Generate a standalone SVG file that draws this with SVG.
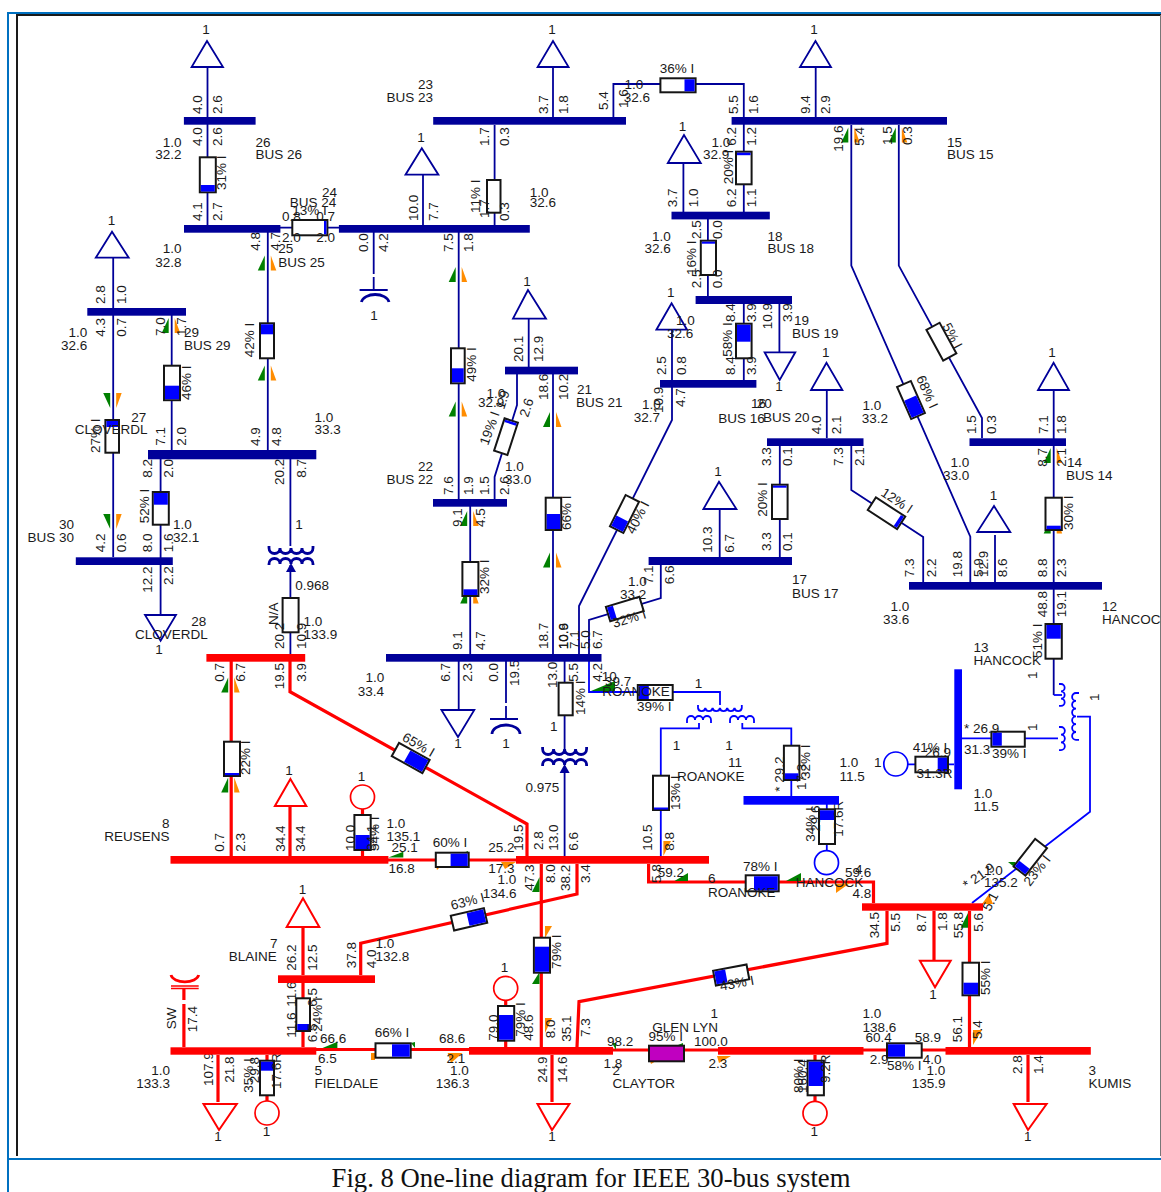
<svg xmlns="http://www.w3.org/2000/svg" xmlns:xlink="http://www.w3.org/1999/xlink" width="1161" height="1192" viewBox="0 0 1161 1192">
<style>
text{font-family:"Liberation Sans",Arial,sans-serif;font-size:13.5px;fill:#1a1a1a}
.m{text-anchor:middle}.e{text-anchor:end}
.cap{font-family:"Liberation Serif","Times New Roman",serif;font-size:26.7px;text-anchor:middle;fill:#111}
.n{fill:none;stroke:#000099;stroke-width:1.8}
.u{fill:none;stroke:#0000ff;stroke-width:1.8}
.R{fill:none;stroke:#ff0000;stroke-width:3.2}
.nb{fill:#000099}.rb{fill:#ff0000}.ub{fill:#0000ff}
.lt{fill:#fff;stroke:#000099;stroke-width:1.8}
.lr{fill:#fff;stroke:#ff0000;stroke-width:2}
.bx{fill:#fff;stroke:#151515;stroke-width:2}
.f{fill:#0000ff}
.g{fill:#008000}.o{fill:#ff8c00}
</style>
<defs>
<g id="up"><polygon class="g" points="-3,-7.5 -3,7.5 -10,7.5"/><polygon class="o" points="3,-7.5 8.5,7.5 3,7.5"/></g>
<g id="dn"><polygon class="g" points="-10,-7.5 -3,-7.5 -3,7.5"/><polygon class="o" points="3,-7.5 8.5,-7.5 3,7.5"/></g>
<g id="xf"><path d="M-22 -10v2a5.5 5.5 0 0 0 11 0a5.5 5.5 0 0 0 11 0a5.5 5.5 0 0 0 11 0a5.5 5.5 0 0 0 11 0v-2" fill="none" stroke-width="2.8"/><path d="M-22 9v-1a5.5 5.5 0 0 1 11 0a5.5 5.5 0 0 1 11 0a5.5 5.5 0 0 1 11 0a5.5 5.5 0 0 1 11 0v1" fill="none" stroke-width="2.8"/><polygon points="0,7 -5,16 5,16" stroke="none"/></g>
</defs>
<rect width="1161" height="1192" fill="#fff"/>
<g id="frame" fill="none">
<path d="M8 1192V13H1161M8 1159H1161" stroke="#0070c0" stroke-width="2"/>
<path d="M17 1156V15H1161" stroke="#1a1a1a" stroke-width="2"/>
<path d="M1160.5 15V1156" stroke="#777" stroke-width="1"/>
</g>
<g id="connectors">
<g id="lines-navy">
<path class="n" d="M207.5 67V225"/>
<path class="n" d="M553 67V117"/>
<path class="n" d="M613.4 117V84H743.8V212"/>
<path class="n" d="M815.7 67V117"/>
<path class="n" d="M494.6 125V225"/>
<path class="n" d="M423 175V225"/>
<path class="n" d="M280 227.7H339"/>
<path class="n" d="M373.7 232V274M373.7 277V290M359.6 290H387.7"/>
<path class="n" d="M458.7 232V499"/>
<path class="n" d="M267.8 232V450"/>
<path class="n" d="M113.2 258V557"/>
<path class="n" d="M171.7 315V450"/>
<path class="n" d="M160.6 459V615"/>
<path class="n" d="M290.4 459V546M290.4 565V654"/>
<path class="n" d="M528.7 319V367"/>
<path class="n" d="M553 374V654"/>
<path class="n" d="M517 374V405L494.6 477V499"/>
<path class="n" d="M470.2 506V654"/>
<path class="n" d="M458.7 661V710"/>
<path class="n" d="M506 661V703M506 706V719M490 719H518"/>
<path class="n" d="M564.6 661V749M564.6 767V856"/>
<path class="n" d="M683.4 163V212"/>
<path class="n" d="M707.9 219V296"/>
<path class="n" d="M743.8 304V380"/>
<path class="n" d="M779.4 304V352"/>
<path class="n" d="M672 330V387V420L579 606V654"/>
<path class="n" d="M826.8 390V438"/>
<path class="n" d="M1053.7 390V624M1053.7 658V695"/>
<path class="n" d="M779.8 446V557"/>
<path class="n" d="M851.3 446V490L923.2 537V582"/>
<path class="n" d="M719.7 509V557"/>
<path class="n" d="M660.8 565V598L589 620V654"/>
<path class="n" d="M851.3 125V265.6L970.3 536.7V582"/>
<path class="n" d="M898.8 125V265.6L982 418V438"/>
<path class="n" d="M995 535V582"/>
</g>
<g id="lines-blue">
<path class="u" d="M589 661V692H720V705"/>
<path class="u" d="M699 723V728.3H660.8V856"/>
<path class="u" d="M742.3 723V728.3H791.3V796"/>
<path class="u" d="M1053.7 695H1062"/>
<path class="u" d="M962 738.3H1058"/>
<path class="u" d="M907 764.3H954"/>
<path class="u" d="M826.8 804V851"/>
<path class="u" d="M1077 716.7H1090V811.7L972 903"/>
<path class="u" d="M1059 684h2a3.6 3.6 0 0 1 0 7.3a3.6 3.6 0 0 1 0 7.3a3.6 3.6 0 0 1 0 7.3h-2" stroke-width="2.6"/>
<path class="u" d="M1059 727h2a3.8 3.8 0 0 1 0 7.7a3.8 3.8 0 0 1 0 7.7a3.8 3.8 0 0 1 0 7.7h-2" stroke-width="2.6"/>
<path class="u" d="M1079 693h-3a3.9 3.9 0 0 0 0 7.8a3.9 3.9 0 0 0 0 7.8a3.9 3.9 0 0 0 0 7.8a3.9 3.9 0 0 0 0 7.8a3.9 3.9 0 0 0 0 7.8a3.9 3.9 0 0 0 0 7.8h3" stroke-width="2.6"/>
<path class="u" d="M698 705v3a3.7 3.7 0 0 0 7.3 0a3.7 3.7 0 0 0 7.3 0a3.7 3.7 0 0 0 7.3 0a3.7 3.7 0 0 0 7.3 0a3.7 3.7 0 0 0 7.3 0a3.7 3.7 0 0 0 7.3 0v-3" stroke-width="2.6"/>
<path class="u" d="M687 723v-3a4 4 0 0 1 8 0a4 4 0 0 1 8 0a4 4 0 0 1 8 0v3" stroke-width="2.6"/>
<path class="u" d="M730 723v-3a4 4 0 0 1 8 0a4 4 0 0 1 8 0a4 4 0 0 1 8 0v3" stroke-width="2.6"/>
</g>
<g id="lines-red">
<path class="R" d="M231.2 661V856"/>
<path class="R" d="M290 661V691.7L527 824V856"/>
<path class="R" d="M290 806V856"/>
<path class="R" d="M362.5 809V856"/>
<path class="R" d="M388 860H516"/>
<path class="R" d="M577 864V894L360.7 943.3V975"/>
<path class="R" d="M541.3 864V1047"/>
<path class="R" d="M648.6 864V882H873.5V903"/>
<path class="R" d="M887 911V943.3L579 1001.7L577 1047"/>
<path class="R" d="M934 911V960.7"/>
<path class="R" d="M969.5 911V1047"/>
<path class="R" d="M303 927V975M303 983V1047"/>
<path class="R" d="M183.9 1047V1004M183.9 1000V988"/>
<path class="R" d="M316 1049.5H469"/>
<path class="R" d="M613 1050H718"/>
<path class="R" d="M863 1050H946"/>
<path class="R" d="M218 1055V1102"/>
<path class="R" d="M267 1055V1101"/>
<path class="R" d="M505.7 1001V1047"/>
<path class="R" d="M552 1055V1102"/>
<path class="R" d="M815 1055V1101"/>
<path class="R" d="M1028 1055V1102"/>
</g>
<g id="arrows">
<use href="#up" x="267.8" y="263"/><use href="#up" x="267.8" y="373"/>
<use href="#up" x="458.7" y="274.5"/><use href="#up" x="458.7" y="409"/>
<use href="#dn" x="113.2" y="400.5"/><use href="#dn" x="113.2" y="521.5"/>
<use href="#up" x="171.7" y="325.5"/>
<use href="#up" x="553" y="419.5"/><use href="#up" x="553" y="560"/>
<use href="#up" x="231.2" y="685"/><use href="#up" x="231.2" y="785"/>
<use href="#up" x="470.2" y="518.5"/><use href="#up" x="470.2" y="596"/>
<use href="#up" x="851.3" y="135"/><use href="#up" x="898.8" y="135"/>
<use href="#up" x="1053.7" y="455.5"/><use href="#up" x="1053.7" y="526"/>
<polygon class="g" points="615,681 591,691 615,691"/>
<polygon class="g" points="403.3,851.7 388.4,857.5 403.3,857.5"/>
<polygon class="o" points="501,862 516,862 505,869"/>
<polygon class="g" points="463,853 468,851 468,855"/>
<polygon class="o" points="436,866 441,866 437,870"/>
<polygon class="g" points="539.5,877 532,892 539.5,892"/>
<polygon class="o" points="545,926 552,926 545,938"/>
<polygon class="g" points="539.5,972 532,984 539.5,984"/>
<polygon class="o" points="545,1018 552,1018 545,1033"/>
<polygon class="g" points="688,873 674.5,881 688,881"/>
<polygon class="g" points="801,873 786,881 801,881"/>
<polygon class="o" points="836,884 850,883 836,893"/>
<polygon class="o" points="663.4,841 671,841 663.4,856"/>
<polygon class="g" points="337.4,1041.7 322.6,1048 337.4,1048"/>
<polygon class="g" points="411,1043 415,1042 415,1048"/>
<polygon class="o" points="371,1053 375,1053 375,1060 371,1060"/>
<polygon class="o" points="447.6,1053 462.5,1053 451,1063"/>
<polygon class="g" points="968,913 960.6,927.7 968,927.7"/>
<polygon class="o" points="973,1030 982,1030 973,1045"/>
<polygon class="o" points="982,904 993,904 989,894"/>
<polygon class="g" points="1008,862 1015.5,862 1015.5,868"/>
<polygon class="g" points="612,1043 616,1043 616,1050"/>
<polygon class="o" points="717,1056 731,1056 719,1063"/>
<polygon class="g" points="678,1045 683,1043 683,1046"/>
<polygon class="o" points="650,1061 656,1061 651,1064"/>
</g>
<g id="breakers">
<rect class="bx" x="199.8" y="157.3" width="16" height="35"/><rect class="f" x="200.8" y="185" width="14" height="6.5"/>
<rect class="bx" x="487" y="180" width="13.5" height="32.7"/>
<rect class="bx" x="260" y="323.3" width="14" height="35"/><rect class="f" x="261" y="324.3" width="12" height="10"/>
<rect class="bx" x="451" y="348.3" width="13.7" height="35"/><rect class="f" x="452" y="368.3" width="11.7" height="14"/>
<rect class="bx" x="164" y="365.7" width="16" height="34.5"/><rect class="f" x="165" y="385.7" width="14" height="13.5"/>
<rect class="bx" x="105.4" y="420" width="13.6" height="32.7"/><rect class="f" x="106.4" y="421" width="11.6" height="6"/>
<rect class="bx" x="152.8" y="492" width="16" height="32.7"/><rect class="f" x="153.8" y="493" width="14" height="11.7"/>
<rect class="bx" x="282.6" y="598" width="16" height="34.3"/>
<rect class="bx" x="545.7" y="497.7" width="15.5" height="32.3"/><rect class="f" x="546.7" y="514" width="13.5" height="15"/>
<rect class="bx" x="462.4" y="562" width="16" height="34"/><rect class="f" x="463.4" y="589.3" width="14" height="5.7"/>
<rect class="bx" x="224" y="741.7" width="16" height="34.3"/><rect class="f" x="225" y="773" width="14" height="2.2"/>
<rect class="bx" x="558.6" y="682.7" width="14.1" height="32.6"/>
<rect class="bx" x="354.4" y="815" width="16.3" height="35"/><rect class="f" x="355.4" y="835" width="14.3" height="14"/>
<rect class="bx" x="736" y="151.7" width="15.6" height="32.6"/><rect class="f" x="737" y="152.7" width="13.6" height="2.5"/>
<rect class="bx" x="700.8" y="240.7" width="15.2" height="34.3"/><rect class="f" x="701.8" y="241.7" width="13.2" height="2"/>
<rect class="bx" x="736" y="323.7" width="15.6" height="34.6"/><rect class="f" x="737" y="324.7" width="13.6" height="17"/>
<rect class="bx" x="772" y="484.7" width="15.6" height="34.3"/><rect class="f" x="773" y="485.7" width="13.6" height="2"/>
<rect class="bx" x="1045.5" y="497.7" width="16.3" height="32.3"/><rect class="f" x="1046.5" y="525.7" width="14.3" height="3.4"/>
<rect class="bx" x="1045.5" y="624" width="16.3" height="34.7"/><rect class="f" x="1046.5" y="625" width="14.3" height="13.7"/>
<rect class="bx" x="653" y="775.7" width="16" height="34.3"/><rect class="f" x="654" y="807.5" width="14" height="2"/>
<rect class="bx" x="783.9" y="745.7" width="15.5" height="34.3"/><rect class="f" x="784.9" y="773.3" width="13.5" height="5.8"/>
<rect class="bx" x="819" y="809.3" width="16" height="34.7"/><rect class="f" x="820" y="810.3" width="14" height="9.7"/>
<rect class="bx" x="533.9" y="937.7" width="16.1" height="35"/><rect class="f" x="534.9" y="946.7" width="14.1" height="25"/>
<rect class="bx" x="498" y="1006" width="16.2" height="34.7"/><rect class="f" x="499" y="1015" width="14.2" height="24.7"/>
<rect class="bx" x="962.5" y="962.7" width="16.5" height="32.6"/><rect class="f" x="963.5" y="982.7" width="14.5" height="11.7"/>
<rect class="bx" x="807.6" y="1060.7" width="16.3" height="34.6"/><rect class="f" x="808.6" y="1061.7" width="14.3" height="24.3"/>
<rect class="bx" x="260" y="1060.7" width="14" height="34.6"/><rect class="f" x="261" y="1061.7" width="12" height="9"/>
<rect class="bx" x="296.3" y="998.3" width="13.7" height="32.7"/><rect class="f" x="297.3" y="1024" width="11.7" height="6.1"/>
<rect class="bx" x="660.4" y="78.3" width="35.2" height="14"/><rect class="f" x="684.5" y="79.3" width="10.1" height="12"/>
<rect class="bx" x="292.3" y="220" width="35.1" height="15.3"/><rect class="f" x="324" y="221" width="2.4" height="13.3"/>
<rect class="bx" x="637.8" y="685" width="34.9" height="15"/><rect class="f" x="638.8" y="686" width="10" height="13"/>
<rect class="bx" x="435.8" y="852.7" width="32.9" height="14.3"/><rect class="f" x="450.6" y="853.7" width="17.1" height="12.3"/>
<rect class="bx" x="745.7" y="875.3" width="33" height="16"/><rect class="f" x="754" y="876.3" width="23.7" height="14"/>
<rect class="bx" x="375.5" y="1043.3" width="35.2" height="14.4"/><rect class="f" x="392" y="1044.3" width="17.7" height="12.4"/>
<rect class="bx" x="649" y="1045.7" width="35" height="15.6" style="fill:#c000c0"/>
<rect class="bx" x="887" y="1043.3" width="34.7" height="14.4"/><rect class="f" x="888" y="1044.3" width="17" height="12.4"/>
<rect class="bx" x="991.4" y="731.7" width="33.4" height="15"/><rect class="f" x="992.4" y="732.7" width="9.4" height="13"/>
<rect class="bx" x="915.4" y="756.7" width="32.6" height="15.6"/><rect class="f" x="937.7" y="757.7" width="9.3" height="13.6"/>
<g transform="translate(506 436.7) rotate(18)"><rect class="bx" x="-7" y="-17" width="14" height="34"/><rect class="f" x="-6" y="-16" width="12" height="2.5"/></g>
<g transform="translate(410.7 758) rotate(29)"><rect class="bx" x="-17.5" y="-7.5" width="35" height="15"/><rect class="f" x="-4" y="-6.5" width="20.5" height="13"/></g>
<g transform="translate(469 919.3) rotate(-13)"><rect class="bx" x="-17" y="-7.5" width="34" height="15"/><rect class="f" x="-1" y="-6.5" width="17" height="13"/></g>
<g transform="translate(731.2 975) rotate(-10.7)"><rect class="bx" x="-17" y="-7.5" width="34" height="15"/><rect class="f" x="-16" y="-6.5" width="11" height="13"/></g>
<g transform="translate(911 400) rotate(-23.7)"><rect class="bx" x="-7.5" y="-17.5" width="15" height="35"/><rect class="f" x="-6.5" y="-2" width="13" height="18.5"/></g>
<g transform="translate(941.4 341.7) rotate(-28.6)"><rect class="bx" x="-7.5" y="-17.5" width="15" height="35"/></g>
<g transform="translate(624.5 514) rotate(26.6)"><rect class="bx" x="-7.5" y="-17.5" width="15" height="35"/><rect class="f" x="-6.5" y="5" width="13" height="11.5"/></g>
<g transform="translate(624.8 609) rotate(-17)"><rect class="bx" x="-17.5" y="-7.5" width="35" height="15"/><rect class="f" x="-16.5" y="-6.5" width="6" height="13"/></g>
<g transform="translate(886.5 513.3) rotate(33)"><rect class="bx" x="-17.5" y="-7.5" width="35" height="15"/><rect class="f" x="13" y="-6.5" width="3.5" height="13"/></g>
<g transform="translate(1030.3 857.3) rotate(-52)"><rect class="bx" x="-17.5" y="-7.5" width="35" height="15"/><rect class="f" x="-16.5" y="-6.5" width="7" height="13"/></g>
</g>
<g id="flows">
<text transform="translate(202 114) rotate(-90)">4.0</text><text transform="translate(222 114) rotate(-90)">2.6</text>
<text transform="translate(202 146) rotate(-90)">4.0</text><text transform="translate(222 146) rotate(-90)">2.6</text>
<text transform="translate(202 221) rotate(-90)">4.1</text><text transform="translate(222 221) rotate(-90)">2.7</text>
<text transform="translate(225.5 190) rotate(-90)">31% I</text>
<text transform="translate(547.5 114) rotate(-90)">3.7</text><text transform="translate(567.5 114) rotate(-90)">1.8</text>
<text transform="translate(608 110) rotate(-90)">5.4</text><text transform="translate(628 108) rotate(-90)">1.6</text>
<text transform="translate(738 114) rotate(-90)">5.5</text><text transform="translate(758 114) rotate(-90)">1.6</text>
<text transform="translate(810 114) rotate(-90)">9.4</text><text transform="translate(830 114) rotate(-90)">2.9</text>
<text transform="translate(489 146) rotate(-90)">1.7</text><text transform="translate(509 146) rotate(-90)">0.3</text>
<text transform="translate(489 218) rotate(-90)">1.7</text><text transform="translate(509 221) rotate(-90)">0.3</text>
<text transform="translate(480 213) rotate(-90)">11% I</text>
<text transform="translate(417.5 221) rotate(-90)">10.0</text><text transform="translate(437.5 221) rotate(-90)">7.7</text>
<text transform="translate(368 252) rotate(-90)">0.0</text><text transform="translate(388 252) rotate(-90)">4.2</text>
<text transform="translate(453 252) rotate(-90)">7.5</text><text transform="translate(473 252) rotate(-90)">1.8</text>
<text transform="translate(453 495) rotate(-90)">7.6</text><text transform="translate(473 495) rotate(-90)">1.9</text>
<text transform="translate(489 495) rotate(-90)">1.5</text><text transform="translate(509 495) rotate(-90)">2.6</text>
<text transform="translate(528 418) rotate(-72)">2.6</text>
<text transform="translate(504 410) rotate(-72)">1.9</text>
<text transform="translate(488 446) rotate(-70)">19% I</text>
<text transform="translate(523 362) rotate(-90)">20.1</text><text transform="translate(543 362) rotate(-90)">12.9</text>
<text transform="translate(547.5 400) rotate(-90)">18.6</text><text transform="translate(567.5 400) rotate(-90)">10.2</text>
<text transform="translate(476 381.7) rotate(-90)">49% I</text>
<text transform="translate(254 357.3) rotate(-90)">42% I</text>
<text transform="translate(260 250.7) rotate(-90)">4.8</text><text transform="translate(280 250.7) rotate(-90)">4.7</text>
<text transform="translate(105 304) rotate(-90)">2.8</text><text transform="translate(126 304) rotate(-90)">1.0</text>
<text transform="translate(105 336.7) rotate(-90)">4.3</text><text transform="translate(126 336.7) rotate(-90)">0.7</text>
<text transform="translate(165 336) rotate(-90)">7.0</text><text transform="translate(186 336) rotate(-90)">1.7</text>
<text transform="translate(191 400) rotate(-90)">46% I</text>
<text transform="translate(100 453) rotate(-90)">27% I</text>
<text transform="translate(165 445.7) rotate(-90)">7.1</text><text transform="translate(186 445.7) rotate(-90)">2.0</text>
<text transform="translate(260 446) rotate(-90)">4.9</text><text transform="translate(280.5 446) rotate(-90)">4.8</text>
<text transform="translate(152 477.7) rotate(-90)">8.2</text><text transform="translate(173 477.7) rotate(-90)">2.0</text>
<text transform="translate(284 485) rotate(-90)">20.2</text><text transform="translate(306 477.7) rotate(-90)">8.7</text>
<text transform="translate(149 523.3) rotate(-90)">52% I</text>
<text transform="translate(105 552.3) rotate(-90)">4.2</text><text transform="translate(126 552.3) rotate(-90)">0.6</text>
<text transform="translate(152 552.3) rotate(-90)">8.0</text><text transform="translate(173 552.3) rotate(-90)">1.6</text>
<text transform="translate(152 592.7) rotate(-90)">12.2</text><text transform="translate(173 585) rotate(-90)">2.2</text>
<text transform="translate(284 649) rotate(-90)">20.2</text><text transform="translate(306 649) rotate(-90)">10.9</text>
<text transform="translate(278.3 625) rotate(-90)">N/A</text>
<text transform="translate(223.5 681.7) rotate(-90)">0.7</text><text transform="translate(245 681.7) rotate(-90)">6.7</text>
<text transform="translate(284 689.3) rotate(-90)">19.5</text><text transform="translate(306 681.7) rotate(-90)">3.9</text>
<text transform="translate(250 775) rotate(-90)">22% I</text>
<text transform="translate(223.5 851.7) rotate(-90)">0.7</text><text transform="translate(245 851.7) rotate(-90)">2.3</text>
<text transform="translate(284.5 851.7) rotate(-90)">34.4</text><text transform="translate(305.3 851.7) rotate(-90)">34.4</text>
<text transform="translate(355.2 851) rotate(-90)">10.0</text>
<text transform="translate(379 851) rotate(-90)">54% I</text><text transform="translate(376 851) rotate(-90)">34.1</text>
<text transform="translate(462 527) rotate(-90)">9.1</text><text transform="translate(484.7 527) rotate(-90)">4.5</text>
<text transform="translate(488.5 594) rotate(-90)">32% I</text>
<text transform="translate(462 650) rotate(-90)">9.1</text><text transform="translate(484.7 650) rotate(-90)">4.7</text>
<text transform="translate(547.5 649) rotate(-90)">18.7</text>
<text transform="translate(571 530) rotate(-90)">66% I</text>
<text transform="translate(567.5 649.3) rotate(-90)">10.6</text><text transform="translate(567.5 649.3) rotate(-90)">10.9</text>
<text transform="translate(578.5 649) rotate(-90)">7.1</text><text transform="translate(590 649) rotate(-90)">5.0</text><text transform="translate(601.5 649) rotate(-90)">6.7</text>
<text transform="translate(450.3 681.7) rotate(-90)">6.7</text><text transform="translate(471.6 681.7) rotate(-90)">2.3</text>
<text transform="translate(497.7 681.7) rotate(-90)">0.0</text><text transform="translate(519 686) rotate(-90)">19.5</text>
<text transform="translate(557 688) rotate(-90)">13.0</text><text transform="translate(577.5 681.7) rotate(-90)">5.5</text><text transform="translate(601.5 681.7) rotate(-90)">4.2</text>
<text transform="translate(585 715) rotate(-90)">14% I</text>
<text transform="translate(677 207.3) rotate(-90)">3.7</text><text transform="translate(697.5 207.3) rotate(-90)">1.0</text>
<text transform="translate(735.7 207.3) rotate(-90)">6.2</text><text transform="translate(756 207.3) rotate(-90)">1.1</text>
<text transform="translate(735.7 145.7) rotate(-90)">6.2</text><text transform="translate(756 145.7) rotate(-90)">1.2</text>
<text transform="translate(732.7 184.3) rotate(-90)">20% I</text>
<text transform="translate(701 239) rotate(-90)">2.5</text><text transform="translate(721.6 239) rotate(-90)">0.0</text>
<text transform="translate(695.6 275) rotate(-90)">16% I</text>
<text transform="translate(701 288.3) rotate(-90)">2.5</text><text transform="translate(721.6 288.3) rotate(-90)">0.0</text>
<text transform="translate(735 322) rotate(-90)">8.4</text><text transform="translate(756 322) rotate(-90)">3.9</text>
<text transform="translate(771.7 329.3) rotate(-90)">10.9</text><text transform="translate(792 322) rotate(-90)">3.9</text>
<text transform="translate(732 356.7) rotate(-90)">58% I</text>
<text transform="translate(665.5 375) rotate(-90)">2.5</text><text transform="translate(686 375) rotate(-90)">0.8</text>
<text transform="translate(735 375) rotate(-90)">8.4</text><text transform="translate(756 375) rotate(-90)">3.9</text>
<text transform="translate(663 413) rotate(-90)">10.9</text><text transform="translate(685 407) rotate(-90)">4.7</text>
<text transform="translate(843 151.7) rotate(-90)">19.6</text><text transform="translate(864 145.7) rotate(-90)">5.4</text>
<text transform="translate(892 145) rotate(-90)">1.5</text><text transform="translate(911.5 145) rotate(-90)">0.3</text>
<text transform="translate(820.6 434.3) rotate(-90)">4.0</text><text transform="translate(841 434.3) rotate(-90)">2.1</text>
<text transform="translate(771 466) rotate(-90)">3.3</text><text transform="translate(792 466) rotate(-90)">0.1</text>
<text transform="translate(843 466) rotate(-90)">7.3</text><text transform="translate(864.3 466) rotate(-90)">2.1</text>
<text transform="translate(767 516.7) rotate(-90)">20% I</text>
<text transform="translate(771 551) rotate(-90)">3.3</text><text transform="translate(792 551) rotate(-90)">0.1</text>
<text transform="translate(712.4 552.7) rotate(-90)">10.3</text><text transform="translate(733.5 552.7) rotate(-90)">6.7</text>
<text transform="translate(653 584.3) rotate(-90)">7.1</text><text transform="translate(673.5 584.3) rotate(-90)">6.6</text>
<text transform="translate(975.5 434) rotate(-90)">1.5</text><text transform="translate(996 434) rotate(-90)">0.3</text>
<text transform="translate(1047.8 434) rotate(-90)">7.1</text><text transform="translate(1066 434) rotate(-90)">1.8</text>
<text transform="translate(1047 466.7) rotate(-90)">8.7</text><text transform="translate(1066 466.7) rotate(-90)">2.1</text>
<text transform="translate(1073 530) rotate(-90)">30% I</text>
<text transform="translate(914.4 577.3) rotate(-90)">7.3</text><text transform="translate(935.5 577.3) rotate(-90)">2.2</text>
<text transform="translate(961.8 577.3) rotate(-90)">19.8</text><text transform="translate(983 577) rotate(-90)">5.9</text><text transform="translate(987.5 577) rotate(-90)">12.9</text>
<text transform="translate(1007 577.3) rotate(-90)">8.6</text><text transform="translate(1047 577.3) rotate(-90)">8.8</text><text transform="translate(1066 577.3) rotate(-90)">2.3</text>
<text transform="translate(1047 617.3) rotate(-90)">48.8</text><text transform="translate(1065.6 617.3) rotate(-90)">19.1</text>
<text transform="translate(1042 658) rotate(-90)">51% I</text>
<text transform="translate(680 810) rotate(-90)">13% I</text>
<text transform="translate(784 791.7) rotate(-90)">* 29.2</text>
<text transform="translate(806 790) rotate(-90)">17.3</text><text transform="translate(809.5 779) rotate(-90)">32% I</text>
<text transform="translate(814.5 841.7) rotate(-90)">34% I</text><text transform="translate(820 831.7) rotate(-90)">29.6</text><text transform="translate(843 836.7) rotate(-90)">17.6R</text>
<text transform="translate(652.3 850.7) rotate(-90)">10.5</text><text transform="translate(673.5 850.7) rotate(-90)">8.8</text>
<text transform="translate(522.5 850.7) rotate(-90)">19.5</text><text transform="translate(543 850) rotate(-90)">2.8</text>
<text transform="translate(557.5 850.7) rotate(-90)">13.0</text><text transform="translate(578 850.7) rotate(-90)">6.6</text>
<text transform="translate(534 890.7) rotate(-90)">47.3</text><text transform="translate(554.5 883) rotate(-90)">8.0</text>
<text transform="translate(570 891) rotate(-90)">38.2</text><text transform="translate(590 883) rotate(-90)">3.4</text>
<text transform="translate(661 883) rotate(-90)">5.8</text>
<text transform="translate(879 938.3) rotate(-90)">34.5</text><text transform="translate(899.5 931.7) rotate(-90)">5.5</text>
<text transform="translate(926 931.7) rotate(-90)">8.7</text><text transform="translate(946.5 931) rotate(-90)">1.8</text>
<text transform="translate(962.5 938.3) rotate(-90)">55.8</text><text transform="translate(983 931.7) rotate(-90)">5.6</text>
<text transform="translate(989.6 995) rotate(-90)">55% I</text>
<text transform="translate(560.5 969) rotate(-90)">79% I</text>
<text transform="translate(961.5 1042.3) rotate(-90)">56.1</text><text transform="translate(982 1039) rotate(-90)">5.4</text>
<text transform="translate(1022 1074) rotate(-90)">2.8</text><text transform="translate(1043 1074) rotate(-90)">1.4</text>
<text transform="translate(802.6 1093) rotate(-90)">80% I</text><text transform="translate(807 1093) rotate(-90)">160.4</text><text transform="translate(829.6 1083) rotate(-90)">9.2R</text>
<text transform="translate(253 1092.7) rotate(-90)">35% I</text><text transform="translate(259 1083.3) rotate(-90)">29.8</text><text transform="translate(280.5 1089) rotate(-90)">17.6R</text>
<text transform="translate(498 1040.7) rotate(-90)">79.0</text><text transform="translate(524.5 1036.7) rotate(-90)">79% I</text><text transform="translate(533 1040.7) rotate(-90)">48.6</text>
<text transform="translate(546.5 1082.7) rotate(-90)">24.9</text><text transform="translate(567 1082.7) rotate(-90)">14.6</text>
<text transform="translate(554.5 1038.3) rotate(-90)">8.0</text><text transform="translate(570.5 1041.7) rotate(-90)">35.1</text><text transform="translate(590 1037) rotate(-90)">7.3</text>
<text transform="translate(212.5 1086) rotate(-90)">107.9</text><text transform="translate(234 1082.7) rotate(-90)">21.8</text>
<text transform="translate(176 1029.3) rotate(-90)">SW</text><text transform="translate(197 1032.3) rotate(-90)">17.4</text>
<text transform="translate(296 970.7) rotate(-90)">26.2</text><text transform="translate(316.5 970.7) rotate(-90)">12.5</text>
<text transform="translate(356 968.3) rotate(-90)">37.8</text><text transform="translate(376.3 968.3) rotate(-90)">4.0</text>
<text transform="translate(296 1006.7) rotate(-90)">11.6</text><text transform="translate(317 1006.7) rotate(-90)">6.5</text>
<text transform="translate(296 1037.7) rotate(-90)">11.6</text><text transform="translate(317 1042.3) rotate(-90)">6.5</text>
<text transform="translate(322 1031.7) rotate(-90)">24% I</text>
<text transform="translate(942 326) rotate(62)">5% I</text>
<text transform="translate(916 378) rotate(66)">68% I</text>
<text transform="translate(634 535) rotate(-63)">40% I</text>
<text transform="translate(614 628) rotate(-17)">32% I</text>
<text transform="translate(880 495) rotate(33)">12% I</text>
<text transform="translate(401.3 740) rotate(30)">65% I</text>
<text transform="translate(452 910) rotate(-14)">63% I</text>
<text transform="translate(720.8 990.7) rotate(-10)">43% I</text>
<text transform="translate(1030 887) rotate(-52)">23% I</text>
<text transform="translate(967 890) rotate(-35)">* 21.9</text>
<text transform="translate(990 912) rotate(-62)">5.1</text>
<text x="659.7" y="72.7">36% I</text>
<text x="292.3" y="215">13% I</text>
<text x="282" y="220.7">0.8</text><text x="316.3" y="220.7">0.7</text>
<text x="282" y="241.7">2.0</text><text x="316.3" y="241.7">2.0</text>
<text x="637" y="710.7">39% I</text>
<text x="605" y="685.7">39.7</text>
<text x="992" y="757.7">39% I</text>
<text x="964" y="733.3">* 26.9</text>
<text x="964" y="754">31.3</text>
<text x="912.8" y="752.3">41% I</text>
<text x="924.7" y="756.7">26.9</text>
<text x="916.5" y="778.3">31.3R</text>
<text x="432.8" y="846.7">60% I</text>
<text x="391.4" y="851.7">25.1</text><text x="388.4" y="872.7">16.8</text>
<text x="488.3" y="851.7">25.2</text><text x="488.3" y="872.7">17.3</text>
<text x="657.8" y="876.7">59.2</text>
<text x="743" y="870.7">78% I</text>
<text x="845" y="876.7">59.6</text><text x="855" y="874">4</text>
<text x="852.4" y="898.3">4.8</text>
<text x="374.8" y="1036.7">66% I</text>
<text x="320" y="1042.7">66.6</text><text x="318" y="1063.3">6.5</text>
<text x="439" y="1042.7">68.6</text><text x="446.5" y="1063.3">2.1</text>
<text x="607" y="1046">98.2</text><text x="603.4" y="1068.3">1.8</text>
<text x="648.6" y="1040.7">95% I</text>
<text x="694" y="1046">100.0</text><text x="708.6" y="1067.7">2.3</text>
<text x="865.4" y="1042.3">60.4</text><text x="914.7" y="1042.3">58.9</text>
<text x="869.8" y="1064">2.9</text><text x="887" y="1070">58% I</text><text x="922.8" y="1064">4.0</text>
</g>
</g>
<g id="bus26"><rect class="nb" x="183.9" y="117" width="71.7" height="7.7"/><polygon class="lt" points="207,41 191.6,67 223,67"/><text class="m" x="206" y="34">1</text><text class="e" x="181.6" y="146.7">1.0</text><text class="e" x="181.6" y="159.3">32.2</text><text x="255.6" y="146.7">26</text><text x="255.6" y="159.3">BUS 26</text></g>
<g id="bus23"><rect class="nb" x="433.2" y="117" width="192.8" height="7.7"/><polygon class="lt" points="553,41 537.6,67 568.6,67"/><text class="m" x="552" y="34">1</text><text class="e" x="433" y="89">23</text><text class="e" x="433" y="101.7">BUS 23</text><text x="624.5" y="89.3">1.0</text><text x="623.7" y="102">32.6</text></g>
<g id="bus25"><rect class="nb" x="184" y="225" width="96.4" height="7.7"/><text class="e" x="181.6" y="253.3">1.0</text><text class="e" x="181.6" y="267.3">32.8</text><text x="278.2" y="253.3">25</text><text x="278.2" y="267.3">BUS 25</text></g>
<g id="bus24"><rect class="nb" x="338.9" y="225" width="190.9" height="7.7"/><polygon class="lt" points="421.8,148.3 405.5,174.7 438.4,174.7"/><text class="m" x="421" y="142">1</text><text x="529.8" y="197.3">1.0</text><text x="529.8" y="207.3">32.6</text><text x="321.9" y="197.3">24</text><text x="289.7" y="207.3">BUS 24</text><path d="M361.4 302a14 9 0 0 1 27.6 0" fill="none" stroke="#000099" stroke-width="2.8"/><text class="m" x="374" y="319.5">1</text></g>
<g id="bus29"><rect class="nb" x="87.3" y="308" width="98.7" height="7.7"/><polygon class="lt" points="112,231.7 95.8,257.7 128.7,257.7"/><text class="m" x="111.5" y="225">1</text><text class="e" x="87.3" y="337.3">1.0</text><text class="e" x="87.3" y="350">32.6</text><text x="183.9" y="337.3">29</text><text x="183.9" y="350">BUS 29</text></g>
<g id="bus21"><rect class="nb" x="505" y="366.7" width="73" height="7.7"/><polygon class="lt" points="528,290 513,318.7 546,318.7"/><text class="m" x="527" y="286">1</text><text x="486.5" y="398">1.0</text><text x="478" y="407.3">32.9</text><text x="577" y="394">21</text><text x="576" y="407">BUS 21</text></g>
<g id="bus15"><rect class="nb" x="731.6" y="117" width="215.4" height="7.7"/><polygon class="lt" points="815.5,41 800,67 831,67"/><text class="m" x="814" y="34">1</text><text x="947" y="146.7">15</text><text x="947" y="159.3">BUS 15</text><text x="711.6" y="146.7">1.0</text><text x="703" y="159.3">32.9</text></g>
<g id="bus18"><rect class="nb" x="671.5" y="211.7" width="98.3" height="7.7"/><polygon class="lt" points="684,135 667.8,163 700.8,163"/><text class="m" x="682.5" y="131">1</text><text class="e" x="670.8" y="240.7">1.0</text><text class="e" x="670.8" y="253.3">32.6</text><text x="767.5" y="240.7">18</text><text x="767.5" y="253.3">BUS 18</text></g>
<g id="bus19"><rect class="nb" x="695.6" y="296" width="96.4" height="8"/><polygon class="lt" points="764.6,352.3 795.3,352.3 779.7,380"/><text class="m" x="779" y="391">1</text><text x="794" y="325">19</text><text x="792" y="338.3">BUS 19</text></g>
<g id="bus16"><rect class="nb" x="660" y="380" width="96.4" height="7.7"/><polygon class="lt" points="671.6,303.3 656.4,329.7 687,329.7"/><text class="m" x="670.8" y="297">1</text><text x="676" y="325">1.0</text><text x="667" y="338.3">32.6</text><text x="642" y="409">1.0</text><text x="633.7" y="422">32.7</text><text x="751" y="408.3">16</text><text x="718.3" y="422.7">BUS 16</text></g>
<g id="bus27"><rect class="nb" x="148" y="450" width="168.3" height="9.3"/><text x="131.3" y="421.7">27</text><text x="74.7" y="434.3">CLOVERDL</text><text x="314.5" y="421.7">1.0</text><text x="314.5" y="434.3">33.3</text></g>
<g id="bus30"><rect class="nb" x="75.8" y="557.3" width="97" height="7.7"/><polygon class="lt" points="145,615 176,615 160.6,640.7"/><text class="m" x="159" y="654">1</text><text class="e" x="74" y="529">30</text><text class="e" x="74" y="541.7">BUS 30</text><text x="173" y="529">1.0</text><text x="173" y="541.7">32.1</text><text x="191.3" y="626">28</text><text x="135" y="639">CLOVERDL</text></g>
<g id="bus22"><rect class="nb" x="433" y="499" width="74" height="7.7"/><text class="e" x="433" y="471">22</text><text class="e" x="433" y="484">BUS 22</text><text x="505" y="471">1.0</text><text x="505" y="484">33.0</text></g>
<g id="bus28"><rect class="rb" x="206.4" y="654" width="98.8" height="7.7"/><use href="#xf" x="291" y="556" fill="#000099" stroke="#000099"/><text class="m" x="299" y="529">1</text><text x="295.2" y="590">0.968</text><text x="303.4" y="626">1.0</text><text x="303.4" y="639">133.9</text></g>
<g id="bus10"><rect class="nb" x="386" y="654" width="215.5" height="7.7"/><polygon class="lt" points="441.4,710 474.3,710 458,737"/><text class="m" x="458" y="748">1</text><path d="M492 734a14 9 0 0 1 28 0" fill="none" stroke="#000099" stroke-width="2.8"/><text class="m" x="506" y="748">1</text><text class="m" x="553.8" y="731">1</text><use href="#xf" x="564.6" y="757" fill="#000099" stroke="#000099"/><text x="525.4" y="792.3">0.975</text><text x="365.5" y="681.7">1.0</text><text x="357.7" y="696">33.4</text><text x="601.7" y="681">10</text><text x="602.3" y="696">ROANOKE</text><text class="m" x="698.6" y="688">1</text><text class="m" x="676.4" y="750">1</text><text class="m" x="729" y="750">1</text></g>
<g id="bus20"><rect class="nb" x="767" y="438.3" width="96.5" height="7.7"/><polygon class="lt" points="826.5,362.7 811,390 842.4,390"/><text class="m" x="825.7" y="357">1</text><text x="756.7" y="408">20</text><text x="763" y="422">BUS 20</text><text x="862.4" y="410">1.0</text><text x="861.7" y="422.7">33.2</text></g>
<g id="bus14"><rect class="nb" x="969.5" y="438.3" width="96.5" height="7.7"/><polygon class="lt" points="1053.6,362.7 1038,390 1069,390"/><text class="m" x="1052" y="357">1</text><text x="1067" y="466.7">14</text><text x="1066" y="480">BUS 14</text><text x="950.6" y="467">1.0</text><text x="943" y="480">33.0</text></g>
<g id="bus17"><rect class="nb" x="648.6" y="557" width="143.4" height="8"/><polygon class="lt" points="719,481.7 703.4,509 736.4,509"/><text class="m" x="718" y="476">1</text><text x="792" y="584.3">17</text><text x="792" y="598">BUS 17</text><text x="628" y="586">1.0</text><text x="620" y="599">33.2</text></g>
<g id="bus12"><rect class="nb" x="909" y="582" width="193" height="7.7"/><polygon class="lt" points="994,506 977.3,532 1010.3,532"/><text class="m" x="993.6" y="499.5">1</text><text x="890.6" y="610.7">1.0</text><text x="883" y="624">33.6</text><text x="1102" y="610.7">12</text><text x="1102" y="624">HANCOCK</text></g>
<g id="bus13"><rect class="ub" x="954.3" y="669.3" width="7.7" height="120"/><text x="973.6" y="652.3">13</text><text x="973.6" y="665">HANCOCK</text><text transform="translate(1037 679) rotate(-90)">1</text><text transform="translate(1099 701) rotate(-90)">1</text><text transform="translate(1037 731) rotate(-90)">1</text><circle cx="895.8" cy="764" r="12" fill="none" stroke="#0000ff" stroke-width="1.7"/><text x="874" y="766.7">1</text><text x="973.6" y="797.7">1.0</text><text x="973.6" y="810.7">11.5</text></g>
<g id="bus11"><rect class="ub" x="743.5" y="796" width="95.5" height="8.7"/><circle cx="826.5" cy="862.7" r="12" fill="none" stroke="#0000ff" stroke-width="1.7"/><text x="728" y="766.7">11</text><text x="677" y="781">ROANOKE</text><text x="839.5" y="766.7">1.0</text><text x="839.5" y="781">11.5</text></g>
<g id="bus8"><rect class="rb" x="170.5" y="856" width="217.9" height="7.7"/><polygon class="lr" points="290.4,779 274.9,806 306.3,806"/><text class="m" x="289" y="775">1</text><circle cx="362.5" cy="797" r="12" fill="none" stroke="#ff0000" stroke-width="1.7"/><text class="m" x="361.4" y="781">1</text><text class="e" x="169.5" y="827.7">8</text><text class="e" x="169.5" y="840.7">REUSENS</text><text x="386.6" y="827.7">1.0</text><text x="386.6" y="840.7">135.1</text></g>
<g id="bus6"><rect class="rb" x="516" y="856" width="193" height="7.7"/><text x="497.6" y="884">1.0</text><text x="482.8" y="897.7">134.6</text><text x="707.9" y="883">6</text><text x="707.9" y="897.3">ROANOKE</text></g>
<g id="bus7"><rect class="rb" x="278" y="975.3" width="97" height="7.7"/><polygon class="lr" points="303,898.3 286.7,927 319.3,927"/><text class="m" x="302.6" y="894">1</text><text class="e" x="277.5" y="947.7">7</text><text class="e" x="276.7" y="960.7">BLAINE</text><text x="375.5" y="947.7">1.0</text><text x="375.5" y="960.7">132.8</text></g>
<g id="bus1"><rect class="rb" x="170.5" y="1047.3" width="145.8" height="7.4"/><polygon class="lr" points="203.5,1104 236.8,1104 219,1130"/><text class="m" x="218" y="1140.7">1</text><circle cx="267" cy="1113" r="12" fill="none" stroke="#ff0000" stroke-width="1.7"/><text class="m" x="266.4" y="1136">1</text><text class="e" x="170" y="1075">1.0</text><text class="e" x="170" y="1088.3">133.3</text><path d="M171 986H198.7M171 988.5H198.7" stroke="#ff0000" stroke-width="1.5"/><path d="M171 975a14 8 0 0 0 27.7 0" fill="none" stroke="#ff0000" stroke-width="2.8"/><text x="314.5" y="1075">5</text><text x="314.5" y="1088.3">FIELDALE</text></g>
<g id="bus4"><rect class="rb" x="469" y="1047" width="144" height="7.7"/><polygon class="lr" points="537.5,1104 569.4,1104 552,1130"/><text class="m" x="552" y="1140.7">1</text><circle cx="505.7" cy="988.3" r="12" fill="none" stroke="#ff0000" stroke-width="1.7"/><text class="m" x="504.5" y="972">1</text><text x="450" y="1075">1.0</text><text x="435.8" y="1088.3">136.3</text></g>
<g id="bus2"><rect class="rb" x="718" y="1047" width="145.5" height="7.7"/><circle cx="815" cy="1113.3" r="12" fill="none" stroke="#ff0000" stroke-width="1.7"/><text class="m" x="814.2" y="1136">1</text><text x="718" y="1018.3" class="e">1</text><text x="652.3" y="1032.3">GLEN LYN</text><text x="612.6" y="1075">2</text><text x="612.6" y="1088.3">CLAYTOR</text><text x="862.4" y="1018.3">1.0</text><text x="862.4" y="1031.7">138.6</text></g>
<g id="bus3"><rect class="rb" x="945.5" y="1047" width="145.3" height="7.7"/><polygon class="lr" points="1013.7,1104 1046.6,1104 1028,1130"/><text class="m" x="1027.7" y="1140.7">1</text><text x="1088.5" y="1075">3</text><text x="1088.5" y="1088.3">KUMIS</text><text x="926.6" y="1075">1.0</text><text x="911.7" y="1088.3">135.9</text></g>
<g id="bus5"><rect class="rb" x="862" y="903.3" width="121" height="7.4"/><polygon class="lr" points="919.9,960.7 950.7,960.7 935,987.3"/><text class="m" x="933" y="999.3">1</text><text x="795.7" y="887.3">HANCOCK</text><text x="984" y="875">1.0</text><text x="984" y="887.3">135.2</text></g>
<text class="cap" x="591" y="1187">Fig. 8 One-line diagram for IEEE 30-bus system</text>
</svg>
